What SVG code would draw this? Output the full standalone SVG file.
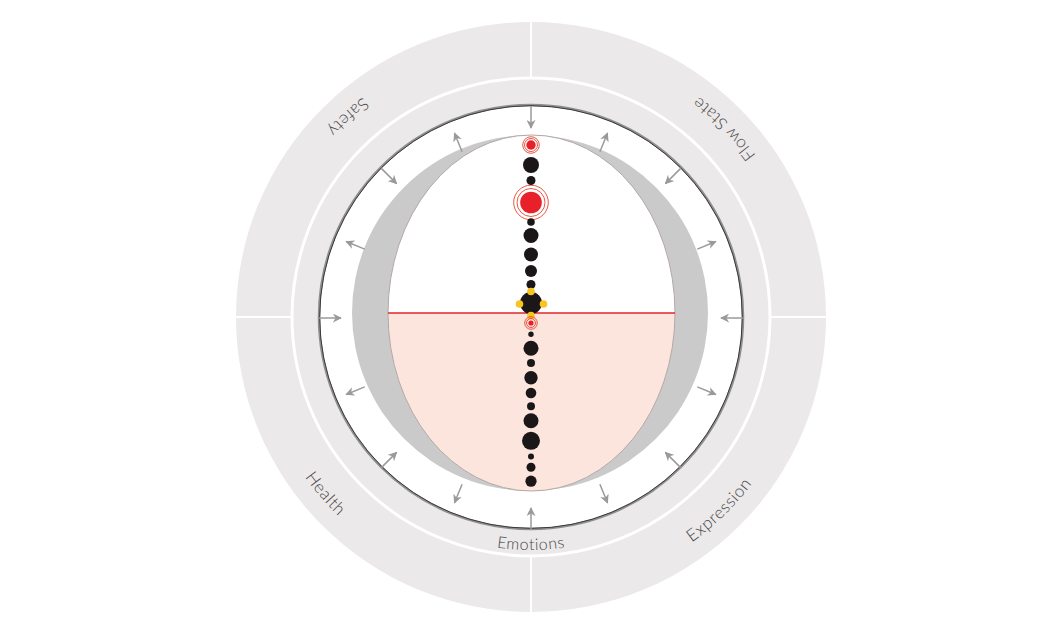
<svg xmlns="http://www.w3.org/2000/svg" xmlns:xlink="http://www.w3.org/1999/xlink" width="1062" height="632" viewBox="0 0 1062 632">
  <style>
    .lbl { font-family: Lato, "Open Sans", "Liberation Sans", sans-serif; font-weight: 300; font-size: 17px; fill: #4a4748; letter-spacing: 0.6px; }
    .arr { stroke: #9a9a9a; stroke-width: 1.5; fill: none; marker-end: url(#ah); }
    .blk { fill: #1b1718; }
    .red { fill: #e8202a; }
    .ring { fill: none; stroke: #e8432e; stroke-width: 0.9; }
    .yel { fill: #f7c51e; }
    .div { stroke: #ffffff; stroke-width: 2; }
  </style>
  <defs>
    <marker id="ah" viewBox="0 0 10 10" refX="9" refY="5" markerWidth="9" markerHeight="9" markerUnits="userSpaceOnUse" orient="auto">
      <path d="M0,0 L10,5 L0,10 L3,5 z" fill="#9a9a9a"/>
    </marker>
    <path id="outerPath" d="M 808 317 A 277 277 0 0 0 254 317 A 277 277 0 0 0 808 317"/>
    <path id="innerPath" d="M 764 317 A 233 233 0 0 0 298 317 A 233 233 0 0 0 764 317"/>
  </defs>

  <g id="background">
    <circle cx="531" cy="317" r="295" fill="#ebe9e9"/>
    <line class="div" x1="531" y1="22" x2="531" y2="78"/>
    <line class="div" x1="531" y1="556" x2="531" y2="612"/>
    <line class="div" x1="236" y1="317" x2="292" y2="317"/>
    <line class="div" x1="770" y1="317" x2="826" y2="317"/>
    <circle cx="531" cy="317" r="239" fill="none" stroke="#ffffff" stroke-width="3"/>
    <circle cx="531" cy="317" r="212" fill="#ffffff" stroke="#8f8f8f" stroke-width="2.5"/>
    <circle cx="531" cy="317" r="211.3" fill="none" stroke="#3a3a3a" stroke-width="1"/>
  </g>

  <g id="core">
    <circle cx="530" cy="313" r="178" fill="#cbcacb"/>
    <ellipse cx="531.5" cy="313" rx="143.5" ry="178" fill="#ffffff"/>
    <path d="M 388 313 A 143.5 178 0 0 0 675 313 Z" fill="#fce5dd"/>
    <ellipse cx="531.5" cy="313" rx="143.5" ry="178" fill="none" stroke="#b3a8a5" stroke-width="1"/>
    <line x1="388" y1="313" x2="675" y2="313" stroke="#e2252b" stroke-width="1.5"/>
  </g>

  <g id="connectors">
    <line class="arr" x1="531" y1="106" x2="531" y2="128"/>
    <line class="arr" x1="680.9" y1="168.1" x2="665.4" y2="183.6"/>
    <line class="arr" x1="743" y1="318" x2="721" y2="318"/>
    <line class="arr" x1="680.9" y1="467.9" x2="665.4" y2="452.4"/>
    <line class="arr" x1="531" y1="530" x2="531" y2="508"/>
    <line class="arr" x1="381.1" y1="467.9" x2="396.6" y2="452.4"/>
    <line class="arr" x1="319" y1="318" x2="341" y2="318"/>
    <line class="arr" x1="381.1" y1="168.1" x2="396.6" y2="183.6"/>
    <line class="arr" x1="599.9" y1="151.7" x2="607.5" y2="133.2"/>
    <line class="arr" x1="697.3" y1="249.1" x2="715.8" y2="241.5"/>
    <line class="arr" x1="697.3" y1="386.9" x2="715.8" y2="394.5"/>
    <line class="arr" x1="599.9" y1="484.3" x2="607.5" y2="502.8"/>
    <line class="arr" x1="462.1" y1="484.3" x2="454.5" y2="502.8"/>
    <line class="arr" x1="364.7" y1="386.9" x2="346.2" y2="394.5"/>
    <line class="arr" x1="364.7" y1="249.1" x2="346.2" y2="241.5"/>
    <line class="arr" x1="462.1" y1="151.7" x2="454.5" y2="133.2"/>
  </g>

  <g id="node-top-alert">
    <circle class="red" cx="531" cy="145" r="4.7"/>
    <circle class="ring" cx="531" cy="145" r="6.5"/>
    <circle class="ring" cx="531" cy="145" r="8.3"/>
  </g>
  <g id="node-big-alert">
    <circle class="red" cx="531" cy="202.5" r="10.8"/>
    <circle class="ring" cx="531" cy="202.5" r="14"/>
    <circle class="ring" cx="531" cy="202.5" r="17.3"/>
  </g>
  <g id="node-upper-dots">
    <circle class="blk" cx="531" cy="165" r="8"/>
    <circle class="blk" cx="531" cy="180.5" r="4.5"/>
    <circle class="blk" cx="531" cy="222" r="3.8"/>
    <circle class="blk" cx="531" cy="235.5" r="7.5"/>
    <circle class="blk" cx="531" cy="254.5" r="7"/>
    <circle class="blk" cx="531" cy="271" r="6"/>
    <circle class="blk" cx="531" cy="284.5" r="4.5"/>
  </g>
  <g id="node-center">
    <circle class="blk" cx="531" cy="303" r="11"/>
    <circle class="yel" cx="531" cy="291.5" r="3.8"/>
    <circle class="yel" cx="519.5" cy="304" r="3.8"/>
    <circle class="yel" cx="543.5" cy="304" r="3.8"/>
    <circle class="yel" cx="531" cy="315.5" r="3.8"/>
  </g>
  <g id="node-low-alert">
    <circle class="red" cx="531" cy="323" r="2.6"/>
    <circle class="ring" cx="531" cy="323" r="4.5"/>
    <circle class="ring" cx="531" cy="323" r="6.3"/>
  </g>
  <g id="node-lower-dots">
    <circle class="blk" cx="531" cy="334.2" r="2.7"/>
    <circle class="blk" cx="531" cy="348.2" r="7.5"/>
    <circle class="blk" cx="531" cy="363" r="4"/>
    <circle class="blk" cx="531" cy="377.7" r="6.7"/>
    <circle class="blk" cx="531" cy="393" r="5.3"/>
    <circle class="blk" cx="531" cy="406.2" r="4"/>
    <circle class="blk" cx="531" cy="420.8" r="7.5"/>
    <circle class="blk" cx="531" cy="440.8" r="9"/>
    <circle class="blk" cx="531" cy="456.4" r="3"/>
    <circle class="blk" cx="531" cy="467.2" r="4.5"/>
    <circle class="blk" cx="531" cy="481.2" r="5.6"/>
  </g>

  <g id="labels">
    <text class="lbl"><textPath xlink:href="#outerPath" href="#outerPath" startOffset="12.3%" text-anchor="middle">Flow State</textPath></text>
    <text class="lbl"><textPath xlink:href="#outerPath" href="#outerPath" startOffset="36.8%" text-anchor="middle">Safety</textPath></text>
    <text class="lbl"><textPath xlink:href="#outerPath" href="#outerPath" startOffset="61.3%" text-anchor="middle">Health</textPath></text>
    <text class="lbl"><textPath xlink:href="#outerPath" href="#outerPath" startOffset="87.3%" text-anchor="middle">Expression</textPath></text>
    <text class="lbl" style="font-size:16px"><textPath xlink:href="#innerPath" href="#innerPath" startOffset="75%" text-anchor="middle">Emotions</textPath></text>
  </g>
</svg>
